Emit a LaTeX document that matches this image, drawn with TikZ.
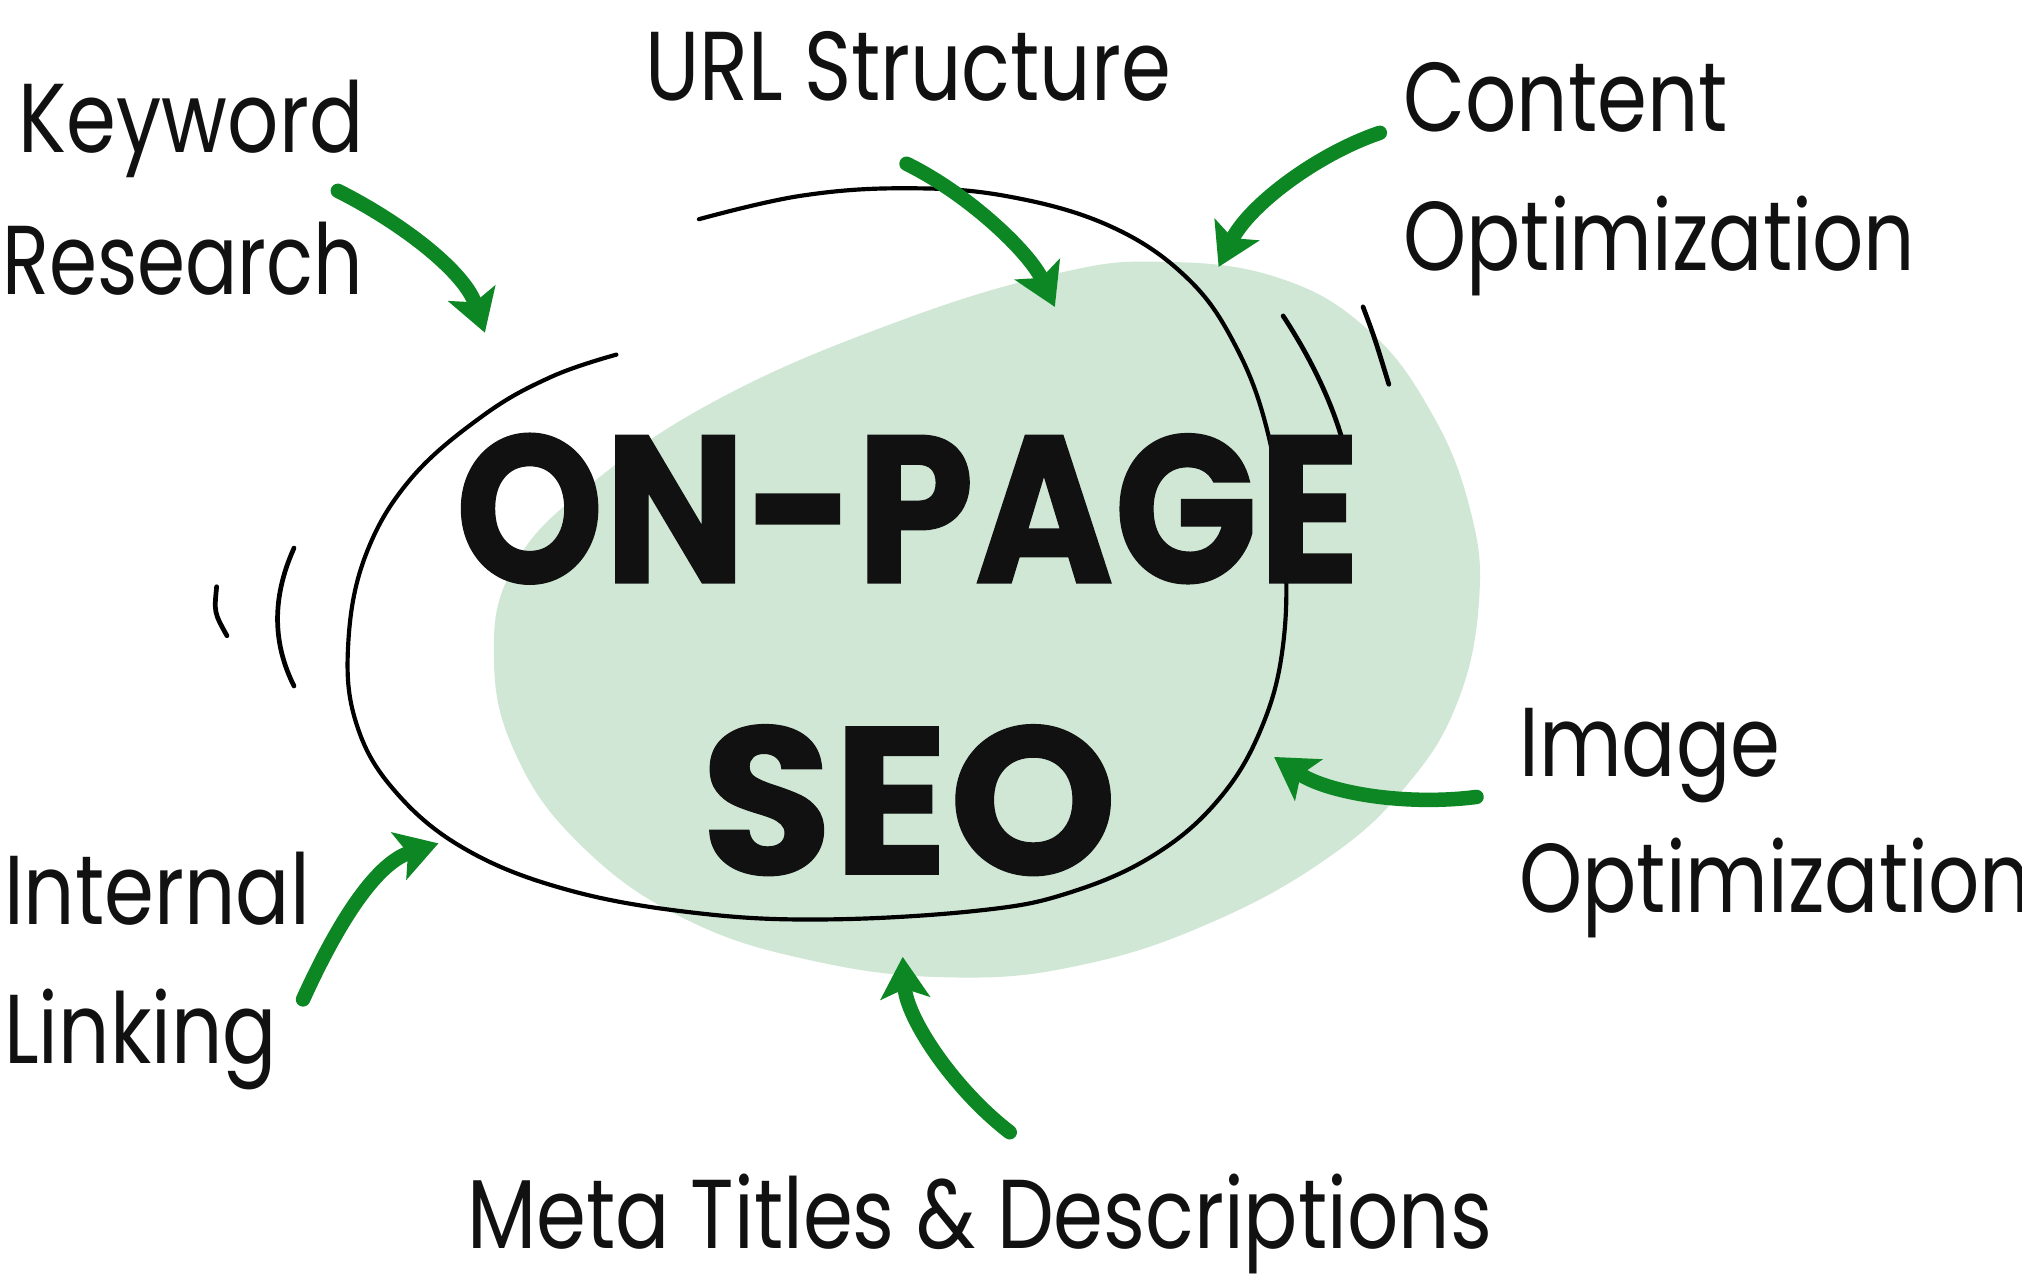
\documentclass[tikz,border=0pt]{standalone}
\usepackage{fontspec}
\usetikzlibrary{arrows.meta}
\setmainfont{Poppins}[FakeStretch=0.82]
\newfontfamily\narrowlbl{Poppins}[FakeStretch=0.79]
\newfontfamily\titleA{Poppins}[FakeStretch=0.9, BoldFeatures={FakeBold=0.6}]
\newfontfamily\titleB{Poppins}[FakeStretch=1.02, BoldFeatures={FakeBold=0.6}]
\definecolor{arrowgreen}{RGB}{12,135,36}
\definecolor{blobgreen}{RGB}{207,231,212}
\definecolor{inkblack}{RGB}{17,17,17}
\tikzset{
  lbl/.style={inner sep=0pt, text=inkblack, font=\fontsize{54pt}{60pt}\selectfont},
  ttl/.style={inner sep=0pt, text=inkblack},
  garrow/.style={draw=arrowgreen, line width=8pt, line cap=round,
    -{Stealth[length=0.8cm,width=0.95cm,inset=0.18cm,fill=arrowgreen]}},
  loopline/.style={draw=black, line width=2.3pt, line cap=round},
  tick/.style={draw=black, line width=2.6pt, line cap=round}
}
\begin{document}
\begin{tikzpicture}[x=0.025cm, y=-0.025cm]
\useasboundingbox (0,0) rectangle (1568,997);
\fill[white] (0,0) rectangle (1568,997);
% green blob
\fill[blobgreen] plot[smooth cycle, tension=0.7] coordinates {
  (383,510) (398,440) (455,378) (560,308) (700,248) (820,212) (900,203)
  (990,215) (1060,255) (1110,320) (1140,395) (1147,465) (1130,545)
  (1090,610) (1030,665) (940,715) (840,748) (740,758) (630,745)
  (530,712) (450,655) (400,585)};
% black loop
\draw[loopline] plot[smooth, tension=0.65] coordinates {
  (542,170) (620,152) (700,146) (780,152) (860,175) (920,215) (958,268)
  (983,335) (996,420) (995,500) (978,565) (945,620) (895,663) (830,692)
  (760,706) (640,713) (540,708) (440,690) (360,658) (305,612) (276,560)
  (270,500) (283,432) (318,372) (375,322) (428,292) (478,275)};
% tick marks
\draw[tick] (168,455) .. controls (166,475) .. (176,493);
\draw[tick] (228,425) .. controls (210,465) and (212,500) .. (228,532);
\draw[tick] (995,245) .. controls (1018,280) and (1034,315) .. (1042,345);
\draw[tick] (1057,238) .. controls (1066,262) .. (1077,298);
% title
\node[ttl, anchor=base, font=\titleA\fontsize{116pt}{120pt}\selectfont\bfseries] (title1) at (704,452) {ON-PAGE};
\node[ttl, anchor=base, font=\titleB\fontsize{116pt}{120pt}\selectfont\bfseries] (title2) at (705,678) {SEO};
% labels
\node[lbl, anchor=base east] (kw1) at (282,118) {Keyword};
\node[lbl, anchor=base east, font=\narrowlbl\fontsize{54pt}{60pt}\selectfont] (kw2) at (282,228) {Research};
\node[lbl, anchor=base west] (url) at (500,78) {URL Structure};
\node[lbl, anchor=base west] (co1) at (1088,102) {Content};
\node[lbl, anchor=base west] (co2) at (1088,210) {Optimization};
\node[lbl, anchor=base west] (im1) at (1178,602) {Image};
\node[lbl, anchor=base west] (im2) at (1178,708) {Optimization};
\node[lbl, anchor=base west] (in1) at (3,717) {Internal};
\node[lbl, anchor=base west] (in2) at (3,825) {Linking};
\node[lbl, anchor=base west] (meta) at (362,968) {Meta Titles \& Descriptions};
% arrow ends
\coordinate (a1s) at (262,148); \coordinate (a1e) at (376,258);
\coordinate (a2s) at (703,127); \coordinate (a2e) at (818,238);
\coordinate (a3s) at (1070,103); \coordinate (a3e) at (945,207);
\coordinate (a4s) at (1145,618); \coordinate (a4e) at (988,587);
\coordinate (a5s) at (783,878); \coordinate (a5e) at (700,742);
\coordinate (a6s) at (235,775); \coordinate (a6e) at (340,654);
\draw[garrow] (a1s) .. controls (310,172) and (360,210) .. (a1e);
\draw[garrow] (a2s) .. controls (750,150) and (798,195) .. (a2e);
\draw[garrow] (a3s) .. controls (1020,120) and (968,160) .. (a3e);
\draw[garrow] (a4s) .. controls (1090,625) and (1030,615) .. (a4e);
\draw[garrow] (a5s) .. controls (740,845) and (703,790) .. (a5e);
\draw[garrow] (a6s) .. controls (260,720) and (290,670) .. (a6e);
\end{tikzpicture}
\end{document}
